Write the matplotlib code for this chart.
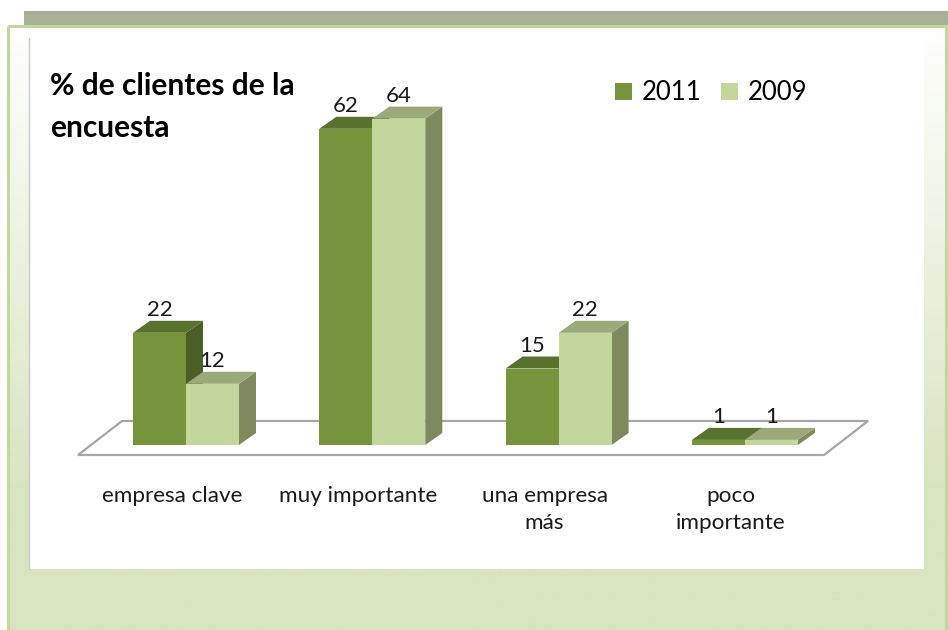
import numpy as np
import matplotlib
matplotlib.use("Agg")
import matplotlib.pyplot as plt
from matplotlib.patches import Rectangle, Polygon

categories = ["empresa clave", "muy importante", "una empresa\nmás", "poco\nimportante"]
series_names = ["2011", "2009"]
values_2011 = [22, 62, 15, 1]
values_2009 = [12, 64, 22, 1]
title = "% de clientes de la\nencuesta"

W, H = 948, 630
DPI = 100
FONT = ["Lato", "DejaVu Sans"]

fig = plt.figure(figsize=(W / DPI, H / DPI), dpi=DPI)
fig.patch.set_facecolor("white")

# ---------- background frame (pixel coordinates) ----------
bg = fig.add_axes([0, 0, 1, 1], zorder=0)
bg.set_xlim(0, W)
bg.set_ylim(H, 0)
bg.axis("off")

bg.add_patch(Rectangle((24, 11), W - 24, 14.5, facecolor="#a7af95", edgecolor="none"))
top_c = np.array([1.0, 1.0, 1.0])
bot_c = np.array([216, 227, 191]) / 255.0
rows = np.linspace(0, 1, 300)
t = np.clip((rows * (630 - 26)) / (500 - 26), 0, 1)[:, None]
grad = (top_c * (1 - t) + bot_c * t)[:, None, :]
bg.imshow(grad, extent=[8, 946, 630, 26], aspect="auto", zorder=1)
bg.add_patch(Rectangle((8, 26), 938, 610, facecolor="none", edgecolor="#c3d69b",
                       linewidth=2.2, zorder=2))
bg.add_patch(Rectangle((29, 36), 895, 533, facecolor="white", edgecolor="none", zorder=3))
bg.plot([29.5, 29.5], [38, 569], color="#c8c8c8", linewidth=1.0, zorder=4)

# ---------- chart axes ----------
px_per_unit = 5.1
zero_px = 445.0
y_lo, y_hi = -4, 72
x_lo, x_hi = -0.5, 3.5
cat_px = 186.3
left_px = 186 + x_lo * cat_px
right_px = 186 + x_hi * cat_px
bot_px = zero_px - y_lo * px_per_unit
top_px = zero_px - y_hi * px_per_unit

ax = fig.add_axes([left_px / W, 1 - bot_px / H, (right_px - left_px) / W, (bot_px - top_px) / H],
                  zorder=5)
ax.set_xlim(x_lo, x_hi)
ax.set_ylim(y_lo, y_hi)
ax.axis("off")
ax.patch.set_alpha(0)

bw = 53 / cat_px
ddx = 17 / cat_px
ddy = 12 / px_per_unit

# floor
fdx = 44 / cat_px
fdy = 34 / px_per_unit
f_front = -10 / px_per_unit
fx0 = (78 - 186) / cat_px
fx1 = (824 - 186) / cat_px
floor = Polygon([(fx0, f_front), (fx1, f_front), (fx1 + fdx, f_front + fdy), (fx0 + fdx, f_front + fdy)],
                closed=True, facecolor="white", edgecolor="#a6a6a6", linewidth=1.6, zorder=1,
                clip_on=False)
ax.add_patch(floor)

styles = {
    "2011": dict(front="#77933c", top="#58722e", side="#4b5f26"),
    "2009": dict(front="#c3d69b", top="#9ba97b", side="#7e8a5e"),
}

x = np.arange(len(categories))
z = 2
for si, (name, vals) in enumerate(zip(series_names, [values_2011, values_2009])):
    st = styles[name]
    x0s = x - bw + si * bw
    ax.bar(x0s, vals, width=bw, align="edge", color=st["front"],
           edgecolor="none", zorder=z + 2)
    for x0, h in zip(x0s, vals):
        x1 = x0 + bw
        side = Polygon([(x1, 0), (x1 + ddx, ddy), (x1 + ddx, h + ddy), (x1, h)],
                       closed=True, facecolor=st["side"], edgecolor="none", zorder=z)
        topf = Polygon([(x0, h), (x0 + ddx, h + ddy), (x1 + ddx, h + ddy), (x1, h)],
                       closed=True, facecolor=st["top"], edgecolor="none", zorder=z + 1)
        ax.add_patch(side)
        ax.add_patch(topf)
        ax.text(x0 + bw / 2, h + ddy + 0.1, f"{h}", ha="center", va="bottom",
                fontsize=16, family=FONT, color="#1a1a1a", zorder=20)
    z += 3

lab_shift = -14 / cat_px
for i, lab in enumerate(categories):
    ax.text(i + lab_shift, (zero_px - 486) / px_per_unit, lab, ha="center", va="top",
            fontsize=16.2, family=FONT, color="#1a1a1a", linespacing=1.45, clip_on=False)

# title
fig.text(50 / W, 1 - 72 / H, title, ha="left", va="top", fontsize=21.5,
         fontweight="bold", family=FONT, color="black", linespacing=1.6)

# legend
leg_handles = [Rectangle((0, 0), 1, 1, facecolor=styles[n]["front"], edgecolor="none")
               for n in series_names]
leg = fig.legend(leg_handles, series_names, loc="center left",
                 bbox_to_anchor=(592 / W, 1 - 93 / H), ncol=2, frameon=False,
                 prop={"family": FONT, "size": 18.5}, handlelength=0.65, handleheight=0.65,
                 handletextpad=0.4, columnspacing=0.75)

fig.savefig("out.png", dpi=DPI, facecolor=fig.get_facecolor())
